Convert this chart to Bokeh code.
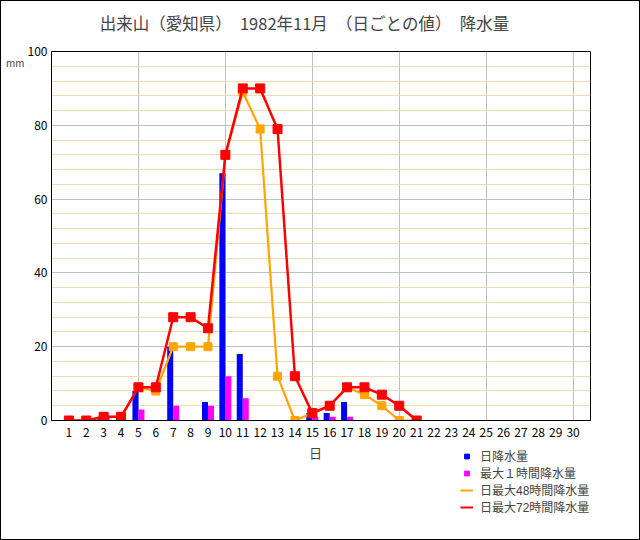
from bokeh.plotting import figure
from bokeh.layouts import column
from bokeh.models import (Range1d, FixedTicker, Legend, LegendItem, ColumnDataSource, Label)
from bokeh.transform import dodge
from bokeh.embed import file_html
from bokeh.resources import INLINE

FONT = "Noto Sans CJK JP"
TIGHT_FONT = "'Liberation Sans', 'Noto Sans CJK JP'"

days = list(range(1, 31))
tick_labels = [str(d) for d in days]
daily = [0, 0, 1, 0, 8, 0, 20, 0, 5, 67, 18, 0, 0, 0, 2, 2, 5, 0, 0, 0, 0] + [0] * 9
max1h = [0, 0, 1, 0, 3, 0, 4, 0, 4, 12, 6, 0, 0, 0, 1, 1, 1, 0, 0, 0, 0] + [0] * 9
line_days = list(range(1, 22))
max48 = [0, 0, 1, 1, 9, 8, 20, 20, 20, 72, 89, 79, 12, 0, 2, 4, 9, 7, 4, 0, 0]
max72 = [0, 0, 1, 1, 9, 9, 28, 28, 25, 72, 90, 90, 79, 12, 2, 4, 9, 9, 7, 4, 0]

title = "出来山（愛知県）　1982年11月　（日ごとの値）　降水量"
unit_label = "mm"
x_label = "日"
legend_labels = ["日降水量", "最大１時間降水量", "日最大48時間降水量", "日最大72時間降水量"]

W = 638
TH = 36
PH = 408
QH = 538 - TH - PH
FL, FR = 51, 590  # frame edges in page pixels


def strip(h):
    f = figure(width=W, height=h, output_backend="svg", toolbar_location=None,
               x_range=Range1d(FL, FR), y_range=Range1d(0, h),
               min_border_left=50, min_border_right=49, min_border_top=0, min_border_bottom=0)
    f.axis.visible = False
    f.grid.visible = False
    f.outline_line_color = None
    f.background_fill_color = "white"
    f.border_fill_color = "white"
    return f


# top strip: title
t = strip(TH)
t.add_layout(Label(x=304, y=TH - 21, text=title, text_align="center", text_baseline="middle",
                   text_font=FONT, text_font_size="16.5px"))

# main chart
p = figure(width=W, height=PH, output_backend="svg", toolbar_location=None,
           x_range=Range1d(0, 31), y_range=Range1d(0, 100),
           min_border_left=50, min_border_right=49, min_border_top=14, min_border_bottom=25)
p.background_fill_color = "white"
p.border_fill_color = "white"
p.outline_line_color = "black"
p.outline_line_width = 1

p.xgrid.ticker = FixedTicker(ticks=[5, 10, 15, 20, 25, 30])
p.xgrid.grid_line_color = "#c0c0c0"
p.ygrid.ticker = FixedTicker(ticks=[0, 20, 40, 60, 80, 100],
                             minor_ticks=[v for v in range(4, 100, 4) if v % 20])
p.ygrid.grid_line_color = "#c0c0c0"
p.ygrid.minor_grid_line_color = "#f0dcb0"

p.xaxis.ticker = FixedTicker(ticks=days)
p.xaxis.major_label_overrides = {d: s for d, s in zip(days, tick_labels)}
p.yaxis.ticker = FixedTicker(ticks=[0, 20, 40, 60, 80, 100], minor_ticks=[])
for ax in (p.xaxis[0], p.yaxis[0]):
    ax.major_tick_line_color = None
    ax.minor_tick_line_color = None
    ax.major_tick_out = 0
    ax.major_tick_in = 0
    ax.minor_tick_out = 0
    ax.axis_line_color = "black"
    ax.major_label_text_font = FONT
    ax.major_label_text_font_size = "12px"
    ax.major_label_text_color = "black"
p.xaxis.major_label_standoff = 7
p.yaxis.major_label_standoff = 4

ya = p.yaxis[0]
ya.axis_label = "\n" + unit_label
ya.axis_label_text_font = FONT
ya.axis_label_text_font_size = "10px"
ya.axis_label_text_font_style = "normal"
ya.axis_label_text_line_height = 1.4
ya.axis_label_standoff = 0
props = ya.properties()
if "axis_label_orientation" in props:
    ya.axis_label_orientation = "horizontal"
if "axis_label_align" in props:
    ya.axis_label_align = "end"

src = ColumnDataSource(dict(day=days, daily=daily, max1h=max1h))
bw = 0.345
p.vbar(x=dodge("day", -bw / 2, range=p.x_range), top="daily", width=bw, source=src,
       fill_color="#0000ff", line_color=None)
p.vbar(x=dodge("day", bw / 2, range=p.x_range), top="max1h", width=bw, source=src,
       fill_color="#ff00ff", line_color=None)

p.line(line_days, max48, line_color="#ffa500", line_width=2.2)
p.scatter(line_days, max48, marker="square", size=8, fill_color="#ffa500", line_color="#ffa500")
p.line(line_days, max72, line_color="#ff0000", line_width=2.5)
p.scatter(line_days, max72, marker="square", size=9, fill_color="#ff0000", line_color="#ff0000")

# bottom strip: x caption and legend (legend proxies sit outside the strip's visible range)
q = strip(QH)
off_x, off_y = [0, 1], [-50, -50]
lb = q.scatter(off_x, off_y, marker="square", size=6, fill_color="#0000ff", line_color="#0000ff")
lm = q.scatter(off_x, off_y, marker="square", size=6, fill_color="#ff00ff", line_color="#ff00ff")
lo = q.line(off_x, off_y, line_color="#ffa500", line_width=2)
lr = q.line(off_x, off_y, line_color="#ff0000", line_width=2)
legend = Legend(items=[LegendItem(label=legend_labels[0], renderers=[lb]),
                       LegendItem(label=legend_labels[1], renderers=[lm]),
                       LegendItem(label=legend_labels[2], renderers=[lo]),
                       LegendItem(label=legend_labels[3], renderers=[lr])],
                location=(409, 24), padding=0, margin=0, spacing=0,
                glyph_width=13, glyph_height=12, label_height=12,
                label_standoff=7, border_line_color=None, background_fill_alpha=0,
                label_text_font=TIGHT_FONT, label_text_font_size="12px")
q.add_layout(legend, "center")
q.add_layout(Label(x=315, y=QH - (452.5 - (1 + TH + PH)), text=x_label, text_align="center",
                   text_baseline="middle", text_font=TIGHT_FONT, text_font_size="13px"))

layout = column(t, p, q, spacing=0, styles={"border": "1px solid black"})
open("out.html", "w").write(file_html(layout, INLINE))
